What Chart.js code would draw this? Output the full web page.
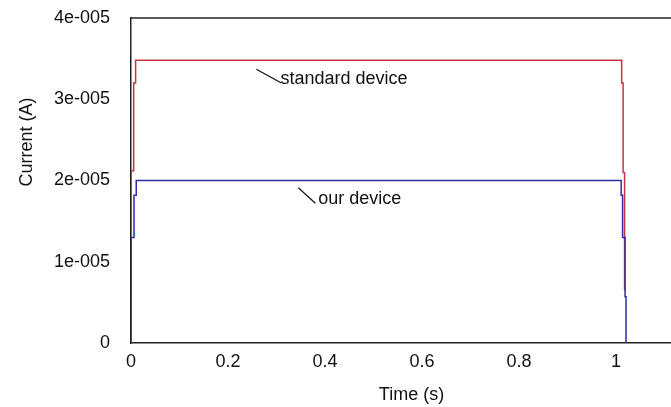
<!DOCTYPE html>
<html>
<head>
<meta charset="utf-8">
<script src="https://cdn.jsdelivr.net/npm/chart.js@4.4.0/dist/chart.umd.min.js"></script>
<style>
  html, body { margin: 0; padding: 0; background: #fff; overflow: hidden; }
  #contenedor { width: 671px; height: 407px; overflow: hidden; }
</style>
</head>
<body>
<div id="contenedor"><canvas id="grafico" width="692" height="407"></canvas></div>
<script>
/* ========= DATOS ========= */

const tiempoTicks = [0, 0.2, 0.4, 0.6, 0.8, 1];
const tiempoLabels = ['0', '0.2', '0.4', '0.6', '0.8', '1'];
const corrienteTicks = [0, 1e-5, 2e-5, 3e-5, 4e-5];
const corrienteLabels = ['0', '1e-005', '2e-005', '3e-005', '4e-005'];

// standard device (rojo)
const tiempoEstandar = [0, 0, 0.0055, 0.0055, 0.0095, 0.0095, 1.0115, 1.0115, 1.0145, 1.0145, 1.0175, 1.0175];
const corrienteEstandar = [0.65e-5, 2.12e-5, 2.12e-5, 3.2e-5, 3.2e-5, 3.48e-5, 3.48e-5, 3.2e-5, 3.2e-5, 2.1e-5, 2.1e-5, 0.65e-5];

// our device (azul)
const tiempoNuestro = [0, 0, 0.0062, 0.0062, 0.0108, 0.0108, 1.0105, 1.0105, 1.0134, 1.0134, 1.0185, 1.0185, 1.0205, 1.0205];
const corrienteNuestro = [0, 1.3e-5, 1.3e-5, 1.82e-5, 1.82e-5, 2.0e-5, 2.0e-5, 1.82e-5, 1.82e-5, 1.3e-5, 1.3e-5, 0.57e-5, 0.57e-5, 0];

// anotaciones (en unidades de datos)
const anotTextos = ['standard device', 'our device'];
const anotTiempo = [0.308, 0.386];
const anotCorriente = [3.25e-5, 1.77e-5];
const guiaInicio = [[0.2585, 3.37e-5], [0.345, 1.91e-5]];
const guiaFin = [[0.310, 3.2e-5], [0.380, 1.72e-5]];

const FUENTE = "'Liberation Sans', Arial, sans-serif";
const aPuntos = (xs, ys) => xs.map((x, i) => ({ x, y: ys[i] }));

/* ========= PLUGIN: borde superior, títulos y anotaciones ========= */

const extrasPlugin = {
  id: 'extras',
  afterDraw(chart) {
    const { ctx, chartArea: area, scales } = chart;
    const sx = scales.x, sy = scales.y;
    ctx.save();

    // borde superior
    ctx.strokeStyle = '#222';
    ctx.lineWidth = 1.5;
    ctx.beginPath();
    ctx.moveTo(area.left, area.top);
    ctx.lineTo(area.right, area.top);
    ctx.stroke();

    ctx.fillStyle = '#111';
    ctx.font = `18px ${FUENTE}`;
    ctx.textBaseline = 'middle';

    // título eje X
    ctx.textAlign = 'center';
    ctx.fillText('Time (s)', (area.left + area.right) / 2, area.bottom + 52);

    // título eje Y
    ctx.save();
    ctx.translate(area.left - 104, area.top + 124);
    ctx.rotate(-Math.PI / 2);
    ctx.fillText('Current (A)', 0, 0);
    ctx.restore();

    // anotaciones
    ctx.textAlign = 'left';
    ctx.lineWidth = 1.2;
    ctx.strokeStyle = '#111';
    anotTextos.forEach((txt, i) => {
      ctx.beginPath();
      ctx.moveTo(sx.getPixelForValue(guiaInicio[i][0]), sy.getPixelForValue(guiaInicio[i][1]));
      ctx.lineTo(sx.getPixelForValue(guiaFin[i][0]), sy.getPixelForValue(guiaFin[i][1]));
      ctx.stroke();
      ctx.fillText(txt, sx.getPixelForValue(anotTiempo[i]), sy.getPixelForValue(anotCorriente[i]));
    });

    ctx.restore();
  }
};

/* ========= GRÁFICO ========= */

function renderCorrienteChart() {
  const ctx = document.getElementById('grafico').getContext('2d');

  new Chart(ctx, {
    type: 'line',
    data: {
      datasets: [
        {
          label: 'our device',
          data: aPuntos(tiempoNuestro, corrienteNuestro),
          borderColor: '#2c2ca6',
          borderWidth: 1.5,
          pointRadius: 0,
          tension: 0,
          fill: false
        },
        {
          label: 'standard device',
          data: aPuntos(tiempoEstandar, corrienteEstandar),
          borderColor: '#c8343f',
          borderWidth: 1.5,
          pointRadius: 0,
          tension: 0,
          fill: false
        }
      ]
    },
    options: {
      responsive: false,
      animation: false,
      devicePixelRatio: 1,
      layout: { padding: { top: 18, right: 0, left: 0, bottom: 0 } },
      plugins: {
        legend: { display: false },
        tooltip: { enabled: false }
      },
      scales: {
        x: {
          type: 'linear',
          min: 0,
          max: 1.1565,
          afterBuildTicks: (scale) => { scale.ticks = tiempoTicks.map(v => ({ value: v })); },
          afterFit: (scale) => { scale.height = 64; scale.paddingLeft = 0; scale.paddingRight = 0; },
          grid: { display: false, drawTicks: false },
          border: { display: true, color: '#222', width: 1.5 },
          ticks: {
            padding: 8,
            maxRotation: 0,
            autoSkip: false,
            color: '#111',
            font: { family: FUENTE, size: 18 },
            callback: (value, index) => tiempoLabels[index]
          }
        },
        y: {
          min: 0,
          max: 4e-5,
          afterBuildTicks: (scale) => { scale.ticks = corrienteTicks.map(v => ({ value: v })); },
          afterFit: (scale) => { scale.width = 131; scale.paddingTop = 0; scale.paddingBottom = 0; },
          grid: { display: false, drawTicks: false },
          border: { display: true, color: '#222', width: 1.5 },
          ticks: {
            padding: 21,
            autoSkip: false,
            color: '#111',
            font: { family: FUENTE, size: 18 },
            callback: (value, index) => corrienteLabels[index]
          }
        }
      }
    },
    plugins: [extrasPlugin]
  });
}

document.addEventListener('DOMContentLoaded', renderCorrienteChart);
</script>
</body>
</html>
